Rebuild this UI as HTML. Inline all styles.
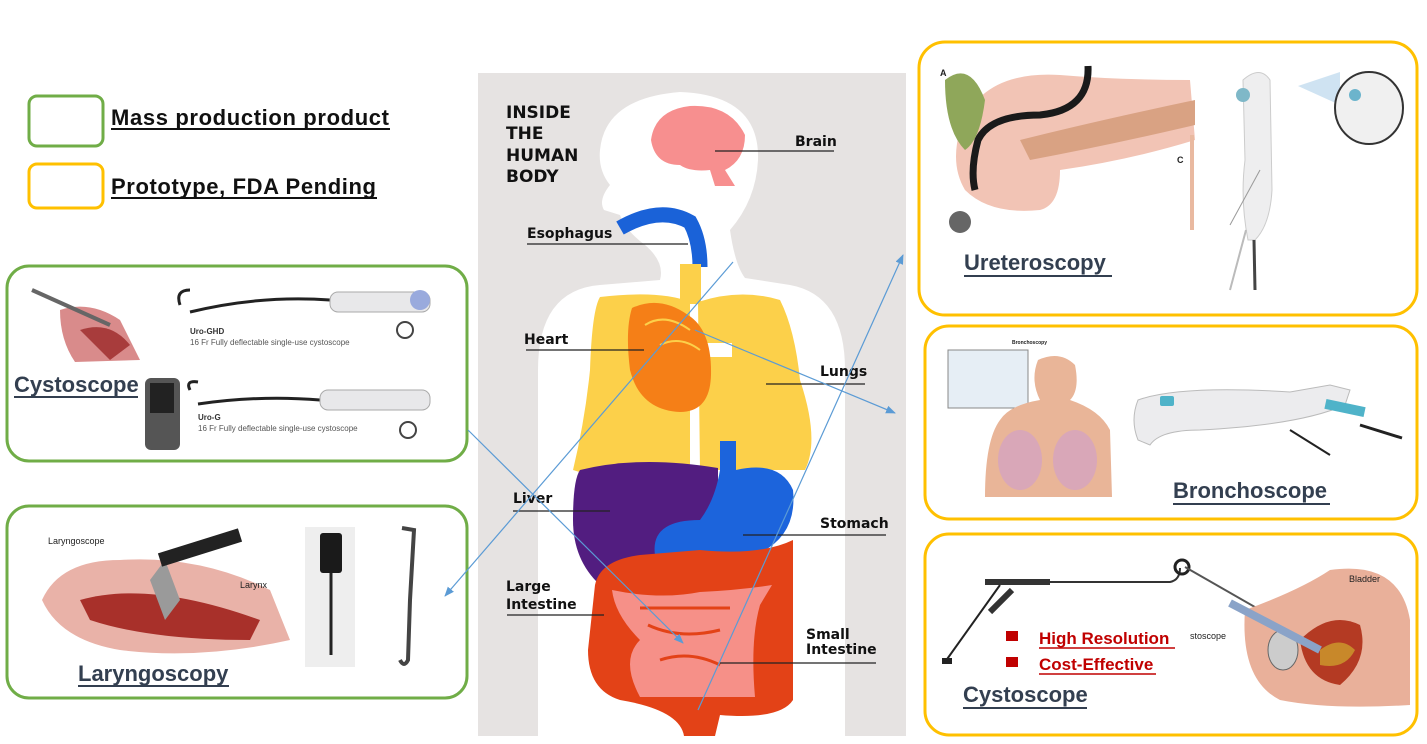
<!DOCTYPE html>
<html><head><meta charset="utf-8"><style>
body{margin:0;background:#fff;width:1427px;height:744px;overflow:hidden;font-family:"Liberation Sans",sans-serif}
svg{position:absolute;left:0;top:0}
</style></head><body>
<svg width="1427" height="744" viewBox="0 0 1427 744" font-family="Liberation Sans, sans-serif">
<defs>
<marker id="ar" markerWidth="10" markerHeight="8" refX="9" refY="4" orient="auto" markerUnits="userSpaceOnUse"><path d="M0,0 L10,4 L0,8 z" fill="#5b9bd5"/></marker>
</defs>
<!-- legend -->
<rect x="29" y="96" width="74" height="50" rx="8" fill="#fff" stroke="#70ad47" stroke-width="3"/>
<rect x="29" y="164" width="74" height="44" rx="8" fill="#fff" stroke="#ffc000" stroke-width="3"/>
<text x="111" y="125" font-size="22" font-weight="bold" fill="#111" textLength="278">Mass production product</text>
<line x1="111" y1="129" x2="390" y2="129" stroke="#111" stroke-width="2"/>
<text x="111" y="194" font-size="22" font-weight="bold" fill="#111" textLength="265">Prototype, FDA Pending</text>
<line x1="111" y1="198" x2="377" y2="198" stroke="#111" stroke-width="2"/>

<!-- left box 1 -->
<rect x="7" y="266" width="460" height="195" rx="22" fill="#fff" stroke="#70ad47" stroke-width="3"/>
<path d="M60,310 Q90,300 120,320 L140,360 L75,362 Q60,340 60,310z" fill="#d98b8b"/>
<path d="M80,330 Q110,320 130,345 L110,360 Z" fill="#a83c3c"/>
<line x1="32" y1="290" x2="110" y2="325" stroke="#666" stroke-width="4"/>
<path d="M180,305 Q175,290 190,290 M190,312 Q260,295 330,300" fill="none" stroke="#222" stroke-width="3"/>
<rect x="330" y="292" width="100" height="20" rx="8" fill="#e8e8ea" stroke="#aaa"/>
<circle cx="420" cy="300" r="10" fill="#9ad" />
<circle cx="405" cy="330" r="8" fill="none" stroke="#444" stroke-width="2"/>
<text x="190" y="334" font-size="8" font-weight="bold" fill="#333">Uro-GHD</text>
<text x="190" y="345" font-size="8" fill="#555">16 Fr Fully deflectable single-use cystoscope</text>
<rect x="145" y="378" width="35" height="72" rx="6" fill="#555"/>
<rect x="150" y="383" width="24" height="30" fill="#222"/>
<path d="M190,390 Q185,380 198,382 M198,404 Q260,395 320,400" fill="none" stroke="#222" stroke-width="3"/>
<rect x="320" y="390" width="110" height="20" rx="8" fill="#e8e8ea" stroke="#aaa"/>
<circle cx="408" cy="430" r="8" fill="none" stroke="#444" stroke-width="2"/>
<text x="198" y="420" font-size="8" font-weight="bold" fill="#333">Uro-G</text>
<text x="198" y="431" font-size="8" fill="#555">16 Fr Fully deflectable single-use cystoscope</text>
<text x="14" y="392" font-size="22" font-weight="bold" fill="#333f50">Cystoscope</text>
<line x1="14" y1="397" x2="138" y2="397" stroke="#333f50" stroke-width="2"/>

<!-- left box 2 -->
<rect x="7" y="506" width="460" height="192" rx="22" fill="#fff" stroke="#70ad47" stroke-width="3"/>
<path d="M42,600 Q60,560 120,560 Q200,555 270,590 L290,640 Q200,660 120,650 Q60,640 42,600z" fill="#e9b2a8"/>
<path d="M80,600 Q150,580 260,620 L250,640 Q150,640 90,620z" fill="#a8302a"/>
<path d="M150,580 L165,560 L180,600 L165,620z" fill="#9a9a9a"/>
<line x1="160" y1="560" x2="240" y2="535" stroke="#222" stroke-width="14"/>
<text x="48" y="544" font-size="9" fill="#222">Laryngoscope</text>
<text x="240" y="588" font-size="9" fill="#222">Larynx</text>
<rect x="305" y="527" width="50" height="140" fill="#eeeeee"/>
<rect x="320" y="533" width="22" height="40" rx="3" fill="#1a1a1a"/>
<line x1="331" y1="573" x2="331" y2="655" stroke="#222" stroke-width="3"/>
<path d="M402,528 L414,530 L410,600 L408,660 Q404,668 400,660" fill="none" stroke="#444" stroke-width="4"/>
<text x="78" y="681" font-size="22" font-weight="bold" fill="#333f50">Laryngoscopy</text>
<line x1="78" y1="686" x2="229" y2="686" stroke="#333f50" stroke-width="2"/>

<!-- center panel -->
<rect x="478" y="73" width="428" height="663" fill="#e6e3e2"/>
<path d="M538,736 L538,370 Q538,290 600,285 L660,280 Q665,262 645,245 Q625,230 620,215 L604,210 Q598,200 610,185 Q598,170 600,150 Q605,98 680,92 Q760,95 758,160 Q756,200 730,230 Q735,265 745,278 L790,285 Q845,295 845,370 L845,736 Z" fill="#fff"/>
<path d="M651,140 Q655,110 690,106 Q730,104 745,135 Q745,160 725,170 L735,186 L715,186 L710,170 Q690,172 680,165 Q655,165 651,140z" fill="#f78f8f"/>
<path d="M620,228 Q660,205 690,222 Q700,240 700,267" fill="none" stroke="#1a62d8" stroke-width="15"/>
<rect x="680" y="264" width="21" height="40" fill="#fcd04a"/>
<path d="M600,297 Q660,290 690,302 L690,470 Q660,475 640,472 Q600,480 573,470 Q585,420 590,370 Q592,310 600,297z" fill="#fcd04a"/>
<path d="M698,302 Q740,288 780,300 Q795,330 800,380 Q820,440 805,470 L700,470 Z" fill="#fcd04a"/>
<rect x="700" y="343" width="32" height="14" fill="#fff"/>
<path d="M632,308 Q660,295 688,315 Q712,330 711,375 Q710,412 680,412 Q640,410 630,370 Q625,330 632,308z" fill="#f57f17"/>
<path d="M645,325 Q665,312 690,330 M660,345 Q680,335 700,350" fill="none" stroke="#fcd04a" stroke-width="2"/>
<path d="M580,470 Q640,455 718,468 L718,585 L600,585 Q573,560 573,520 Q573,480 580,470z" fill="#521d80"/>
<path d="M720,441 L736,441 L736,470 Q780,460 793,490 Q798,540 750,557 L700,555 L672,553 L655,555 Q650,520 700,520 Q715,500 720,470z" fill="#1c64dc"/>
<path d="M595,585 Q600,560 640,555 L700,550 Q760,556 793,540 L793,700 Q780,720 720,715 L715,736 L684,736 Q680,710 620,700 Q588,690 588,650 Z" fill="#e34217"/>
<path d="M612,590 Q660,600 700,592 Q740,590 772,585 L760,605 Q750,640 755,697 L640,697 Q620,660 640,640 Q615,615 612,590z" fill="#f69088"/>
<path d="M640,608 L730,608 M648,625 Q680,640 720,630 M660,660 Q690,650 720,665" fill="none" stroke="#e34217" stroke-width="3"/>
<g font-weight="bold" font-size="17" fill="#111" font-family="DejaVu Sans, sans-serif">
<text x="506" y="118">INSIDE</text><text x="506" y="139">THE</text><text x="506" y="161">HUMAN</text><text x="506" y="182">BODY</text>
</g>
<g font-weight="bold" font-size="14" fill="#111" font-family="DejaVu Sans, sans-serif">
<text x="795" y="146">Brain</text>
<text x="527" y="238">Esophagus</text>
<text x="524" y="344">Heart</text>
<text x="820" y="376">Lungs</text>
<text x="513" y="503">Liver</text>
<text x="820" y="528">Stomach</text>
<text x="506" y="591">Large</text><text x="506" y="609">Intestine</text>
<text x="806" y="639">Small</text><text x="806" y="654">Intestine</text>
</g>
<g stroke="#222" stroke-width="1.3">
<line x1="715" y1="151" x2="834" y2="151"/>
<line x1="527" y1="244" x2="688" y2="244"/>
<line x1="526" y1="350" x2="644" y2="350"/>
<line x1="766" y1="384" x2="865" y2="384"/>
<line x1="513" y1="511" x2="610" y2="511"/>
<line x1="743" y1="535" x2="886" y2="535"/>
<line x1="507" y1="615" x2="604" y2="615"/>
<line x1="720" y1="663" x2="876" y2="663"/>
</g>
<g stroke="#5b9bd5" stroke-width="1.2" fill="none">
<line x1="468" y1="430" x2="683" y2="643" marker-end="url(#ar)"/>
<line x1="733" y1="262" x2="445" y2="596" marker-end="url(#ar)"/>
<line x1="695" y1="330" x2="895" y2="413" marker-end="url(#ar)"/>
<line x1="698" y1="710" x2="903" y2="255" marker-end="url(#ar)"/>
</g>

<!-- right box 1 -->
<rect x="919" y="42" width="498" height="273" rx="26" fill="#fff" stroke="#ffc000" stroke-width="3"/>
<path d="M960,130 Q980,70 1060,75 Q1120,80 1190,80 L1195,140 Q1130,160 1060,170 Q1060,205 1040,210 Q990,215 965,190 Q950,165 960,130z" fill="#f2c4b5"/>
<path d="M1020,140 Q1100,120 1195,100 L1195,125 Q1110,145 1030,160z" fill="#d9a283"/>
<path d="M945,80 Q970,60 985,100 Q980,140 965,150 Q945,130 945,80z" fill="#8fa75a"/>
<path d="M1088,66 Q1090,110 1040,115 Q990,115 978,140 Q970,170 975,190" fill="none" stroke="#1a1a1a" stroke-width="7"/>
<circle cx="960" cy="222" r="11" fill="#666"/>
<text x="940" y="76" font-size="9" font-weight="bold" fill="#222">A</text>
<text x="1177" y="163" font-size="9" font-weight="bold" fill="#222">C</text>
<rect x="1190" y="135" width="4" height="95" fill="#e9b9a0"/>
<path d="M1243,80 Q1260,65 1270,80 L1272,190 Q1270,225 1255,240 L1248,240 Q1240,200 1245,160z" fill="#eeeeef" stroke="#ccc"/>
<circle cx="1243" cy="95" r="7" fill="#7fb8c8"/>
<line x1="1254" y1="240" x2="1255" y2="290" stroke="#444" stroke-width="3"/>
<line x1="1260" y1="170" x2="1230" y2="225" stroke="#999" stroke-width="1"/>
<line x1="1246" y1="230" x2="1230" y2="290" stroke="#bbb" stroke-width="2"/>
<path d="M1298,86 L1340,72 L1340,105z" fill="#cfe3f2"/>
<ellipse cx="1369" cy="108" rx="34" ry="36" fill="#f0f0f0" stroke="#333" stroke-width="2"/>
<circle cx="1355" cy="95" r="6" fill="#6cb4cc"/>
<text x="964" y="270" font-size="22" font-weight="bold" fill="#333f50">Ureteroscopy</text>
<line x1="964" y1="276" x2="1112" y2="276" stroke="#333f50" stroke-width="2"/>

<!-- right box 2 -->
<rect x="925" y="326" width="492" height="193" rx="24" fill="#fff" stroke="#ffc000" stroke-width="3"/>
<rect x="948" y="350" width="80" height="58" fill="#e6eef5" stroke="#888"/>
<path d="M1000,420 Q1010,405 1040,400 Q1030,380 1038,360 Q1060,350 1075,365 Q1080,390 1070,400 Q1100,410 1110,430 L1112,497 L985,497 Q985,440 1000,420z" fill="#e9b598"/>
<ellipse cx="1020" cy="460" rx="22" ry="30" fill="#d9a7b8"/>
<ellipse cx="1075" cy="460" rx="22" ry="30" fill="#d9a7b8"/>
<text x="1012" y="344" font-size="5" font-weight="bold" fill="#222">Bronchoscopy</text>
<path d="M1138,400 Q1180,385 1290,392 L1330,385 L1350,390 L1345,405 Q1300,425 1200,430 Q1160,430 1150,445 L1138,440 Q1130,420 1138,400z" fill="#ececee" stroke="#bbb"/>
<rect x="1160" y="396" width="14" height="10" rx="2" fill="#4fb3c9"/>
<rect x="1325" y="403" width="40" height="10" fill="#4fb3c9" transform="rotate(12 1345 408)"/>
<line x1="1360" y1="425" x2="1402" y2="438" stroke="#222" stroke-width="3"/>
<line x1="1290" y1="430" x2="1330" y2="455" stroke="#222" stroke-width="2"/>
<text x="1173" y="498" font-size="22" font-weight="bold" fill="#333f50">Bronchoscope</text>
<line x1="1173" y1="504" x2="1330" y2="504" stroke="#333f50" stroke-width="2"/>

<!-- right box 3 -->
<rect x="925" y="534" width="492" height="201" rx="24" fill="#fff" stroke="#ffc000" stroke-width="3"/>
<path d="M1000,582 L1170,582 Q1180,580 1180,568" fill="none" stroke="#333" stroke-width="2"/>
<path d="M985,582 L1050,582" stroke="#333" stroke-width="6"/>
<path d="M1000,585 L945,662" stroke="#222" stroke-width="2"/>
<path d="M1012,590 L990,612" stroke="#333" stroke-width="6"/>
<rect x="942" y="658" width="10" height="6" fill="#222"/>
<circle cx="1182" cy="567" r="7" fill="none" stroke="#222" stroke-width="3"/>
<line x1="1185" y1="567" x2="1330" y2="650" stroke="#555" stroke-width="2"/>
<path d="M1245,610 Q1300,590 1330,570 Q1400,560 1410,620 L1410,705 Q1330,710 1280,700 Q1240,680 1245,610z" fill="#e9b09a"/>
<path d="M1300,640 Q1330,610 1360,625 Q1370,660 1340,685 Q1305,680 1300,640z" fill="#b43a23"/>
<path d="M1320,650 Q1340,635 1355,650 Q1345,670 1320,665z" fill="#c8882a"/>
<ellipse cx="1283" cy="650" rx="15" ry="20" fill="#ccc" stroke="#666"/>
<line x1="1230" y1="603" x2="1320" y2="650" stroke="#8aa3c8" stroke-width="8"/>
<text x="1349" y="582" font-size="9" fill="#222">Bladder</text>
<text x="1190" y="639" font-size="9" fill="#222">stoscope</text>
<rect x="1006" y="631" width="12" height="10" fill="#c00000"/>
<rect x="1006" y="657" width="12" height="10" fill="#c00000"/>
<text x="1039" y="644" font-size="17" font-weight="bold" fill="#c00000">High Resolution</text>
<line x1="1039" y1="648" x2="1175" y2="648" stroke="#c00000" stroke-width="1.5"/>
<text x="1039" y="670" font-size="17" font-weight="bold" fill="#c00000">Cost-Effective</text>
<line x1="1039" y1="674" x2="1156" y2="674" stroke="#c00000" stroke-width="1.5"/>
<text x="963" y="702" font-size="22" font-weight="bold" fill="#333f50">Cystoscope</text>
<line x1="963" y1="708" x2="1087" y2="708" stroke="#333f50" stroke-width="2"/>
</svg>
</body></html>
